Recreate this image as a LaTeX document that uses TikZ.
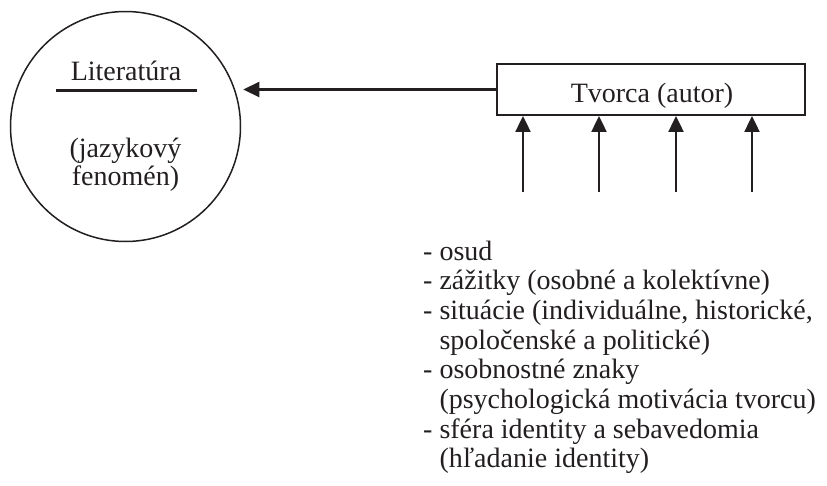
\documentclass[tikz,border=0pt]{standalone}
\usepackage{fontspec}
\setmainfont{Liberation Serif}
\usetikzlibrary{arrows.meta}
\definecolor{ink}{HTML}{231F20}
\tikzset{
  ink/.style={draw=ink, text=ink},
  arr/.style={ink, line width=2.2pt, -{Triangle[length=16pt,width=15pt]}},
  bigtext/.style={font=\fontsize{28}{29.7}\selectfont, inner sep=0pt, text=ink},
}
\begin{document}
\begin{tikzpicture}[x=1pt,y=1pt]
\useasboundingbox (0,0) rectangle (827,-485);
% Literature circle
\node[ink, circle, line width=1.5pt, minimum size=230pt, inner sep=0pt] (lit) at (125.5,-126.5) {};
\node[bigtext, anchor=base] (littitle) at (126,-80) {Literatúra};
\draw[ink, line width=3pt] (56,-90) -- (197,-90);
\node[bigtext, anchor=base] (lang1) at (125.5,-157) {(jazykový};
\node[bigtext, anchor=base] (lang2) at (125.5,-185) {fenomén)};
% Author box
\node[ink, draw, line width=1.9pt, minimum width=308pt, minimum height=51pt, inner sep=0pt] (tv) at (651,-89.5) {};
\node[bigtext, anchor=base] (tvtext) at (652,-102) {Tvorca (autor)};
% Arrow to the circle
\coordinate (tip) at ([xshift=2pt]tv.west -| lit.east);
\draw[arr] (tv.west) -- (tip);
% Influences pointing into the box
\foreach \i/\x in {1/523, 2/599, 3/676, 4/752} {
  \coordinate (src\i) at (\x,-192);
  \draw[arr] (src\i) -- (src\i |- tv.south);
}
% List of influences
\node[bigtext, anchor=base west] (list) at (423,-260) {%
  \begin{tabular}[t]{@{}l@{}l@{}}
  -~ & osud\\
  -~ & zážitky (osobné a kolektívne)\\
  -~ & situácie (individuálne, historické,\\
     & spoločenské a politické)\\
  -~ & osobnostné znaky\\
     & (psychologická motivácia tvorcu)\\
  -~ & sféra identity a sebavedomia\\
     & (hľadanie identity)
  \end{tabular}};
\end{tikzpicture}
\end{document}
